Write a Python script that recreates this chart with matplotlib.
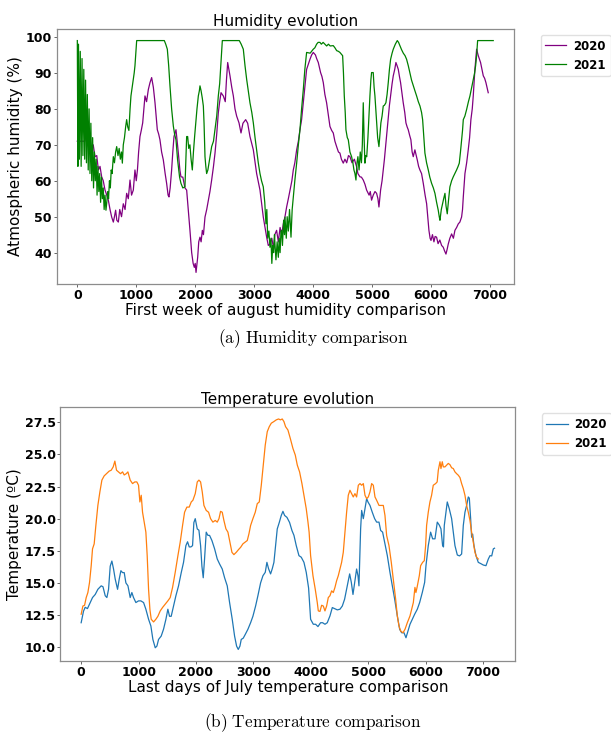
import matplotlib
matplotlib.use('Agg')
import matplotlib.pyplot as plt

plt.rcParams['mathtext.fontset'] = 'cm'

# humidity, 2020 (purple)
hum20_x = [0, 130, 135, 200, 210, 243, 270, 300, 330, 357, 385, 413, 440, 470, 500, 526, 555, 583, 611, 630,
           650, 670, 696, 720, 750, 780, 810, 837, 865, 894, 920, 950, 978, 1000, 1020, 1040, 1063, 1085, 1109, 1130,
           1148, 1175, 1205, 1233, 1261, 1290, 1318, 1357, 1380, 1402, 1430, 1459, 1490, 1515, 1540, 1555, 1575, 1600, 1620, 1640,
           1674, 1700, 1714, 1740, 1758, 1790, 1826, 1855, 1883, 1911, 1940, 1965, 1985, 2000, 2014, 2030, 2042, 2060, 2081, 2100,
           2121, 2140, 2166, 2195, 2223, 2250, 2279, 2310, 2336, 2365, 2392, 2415, 2438, 2477, 2510, 2530, 2551, 2590, 2620, 2647,
           2675, 2703, 2743, 2777, 2810, 2856, 2890, 2929, 2986, 3042, 3099, 3155, 3212, 3240, 3268, 3300, 3330, 3350, 3381, 3410,
           3440, 3466, 3495, 3523, 3551, 3580, 3608, 3640, 3664, 3690, 3721, 3750, 3777, 3805, 3834, 3860, 3890, 3920, 3947, 3975,
           4003, 4040, 4060, 4088, 4127, 4150, 4173, 4200, 4229, 4260, 4286, 4315, 4342, 4370, 4399, 4430, 4455, 4480, 4512, 4540,
           4570, 4600, 4625, 4660, 4700, 4738, 4760, 4794, 4820, 4851, 4880, 4908, 4950, 4970, 4992, 5020, 5050, 5077, 5100, 5117,
           5130, 5145, 5170, 5190, 5210, 5235, 5255, 5275, 5295, 5315, 5340, 5360, 5385, 5405, 5425, 5445, 5465, 5484, 5510, 5529,
           5555, 5575, 5595, 5614, 5640, 5659, 5680, 5699, 5727, 5750, 5767, 5790, 5812, 5840, 5869, 5900, 5926, 5945, 5965, 5985,
           6000, 6025, 6050, 6070, 6095, 6120, 6150, 6180, 6208, 6230, 6254, 6275, 6293, 6320, 6350, 6380, 6406, 6435, 6463, 6490,
           6519, 6535, 6548, 6576, 6605, 6632, 6655, 6677, 6700, 6717, 6745, 6774, 6802, 6841, 6865, 6887, 6910, 6932, 6950, 6971]
hum20_y = [71, 71, 72, 72, 70, 69.5, 70, 66.7, 67, 63, 64, 61.1, 60, 57.4, 56, 54.6, 52, 49.9, 48.5, 50,
           51.8, 49, 48.5, 52, 50, 53.6, 52, 56.5, 55, 60.2, 56, 57.4, 63, 60, 63, 68, 72.3, 74, 76.1, 80,
           83.6, 82, 85.4, 87.3, 88.7, 86, 81.7, 74.2, 73, 71.4, 68, 65.8, 62, 59.3, 56, 55.5, 58, 63, 68, 72.3,
           74.2, 70, 67.7, 63, 61.1, 61, 58, 57.4, 51.8, 46.2, 40, 37, 35.9, 37, 34.5, 37, 38.7, 43, 44.3, 43,
           46.2, 45, 49.9, 52, 54.6, 57, 60.2, 64, 67.7, 73, 78.9, 82, 84.5, 83.6, 82, 88, 92.9, 89.2, 86, 83.6,
           80, 78, 76.1, 73.3, 76, 77, 76, 72.3, 68.6, 62, 57.4, 49.9, 44.3, 42, 42.4, 44, 41, 45, 46.2, 43,
           47, 45, 48, 50, 52.7, 55, 57.4, 60, 63, 65, 68.6, 71, 74.2, 77, 81.7, 86, 91, 92.5, 93.8, 95,
           95.7, 95, 94, 92.9, 90.1, 89, 87.3, 84, 81.7, 78, 75.1, 74, 73.3, 71, 69.5, 68, 67.7, 66, 64.9, 66,
           65, 67, 66.7, 65, 66, 63.9, 62, 61.1, 61, 60.2, 59, 57.4, 56, 57, 54.6, 56, 57, 56.5, 55, 52.7,
           55, 57.4, 60, 63, 66, 70.5, 74, 78, 81, 83.6, 87, 89.2, 91, 92.9, 92, 91, 89, 87.3, 84, 81.7,
           79, 76.1, 75, 74.2, 72.5, 71.4, 68, 66.7, 68.6, 67, 65.8, 64, 63, 62, 59.3, 56, 53.6, 50, 46.2, 44,
           43.4, 45, 43, 44.5, 44.3, 42.5, 43.5, 42, 41.5, 40.5, 39.6, 41, 42.4, 44, 45.2, 44, 46.2, 47, 48, 48.5,
           49.9, 52, 55.5, 62, 65, 68.6, 72, 77, 80, 83.6, 91, 96.6, 94.8, 92.9, 91, 89.2, 88.5, 87.3, 86, 84.5]

# humidity, 2021 (green)
hum21_x = [0, 10, 20, 35, 50, 65, 80, 95, 110, 125, 140, 155, 170, 185, 200, 215, 230, 245, 260, 275,
           290, 305, 320, 335, 350, 365, 380, 395, 410, 425, 440, 455, 470, 486, 500, 515, 530, 545, 560, 575,
           590, 611, 630, 650, 668, 690, 710, 730, 750, 764, 780, 800, 820, 837, 855, 875, 895, 910, 930, 950,
           965, 978, 990, 1007, 1476, 1500, 1527, 1550, 1572, 1600, 1629, 1650, 1674, 1700, 1714, 1735, 1758, 1790, 1826, 1840,
           1855, 1872, 1890, 1910, 1930, 1951, 1970, 1990, 2010, 2030, 2053, 2070, 2081, 2100, 2120, 2138, 2150, 2166, 2180, 2194,
           2215, 2234, 2255, 2279, 2310, 2336, 2365, 2392, 2415, 2438, 2460, 2748, 2780, 2816, 2845, 2873, 2900, 2929, 2960, 2986,
           3015, 3042, 3070, 3099, 3125, 3155, 3180, 3200, 3215, 3230, 3250, 3268, 3285, 3300, 3315, 3330, 3345, 3353, 3370, 3390,
           3410, 3425, 3440, 3455, 3466, 3480, 3500, 3515, 3523, 3545, 3560, 3580, 3600, 3625, 3645, 3664, 3690, 3721, 3750, 3777,
           3805, 3834, 3860, 3890, 3950, 3975, 4003, 4030, 4060, 4085, 4116, 4140, 4170, 4200, 4230, 4260, 4290, 4342, 4370, 4400,
           4430, 4455, 4480, 4501, 4515, 4529, 4545, 4557, 4580, 4597, 4625, 4653, 4675, 4693, 4710, 4727, 4745, 4760, 4780, 4800,
           4820, 4835, 4851, 4865, 4879, 4895, 4910, 4930, 4948, 4964, 4980, 4992, 5020, 5035, 5049, 5063, 5077, 5095, 5117, 5135,
           5150, 5170, 5190, 5210, 5235, 5255, 5275, 5295, 5315, 5340, 5360, 5395, 5428, 5450, 5473, 5500, 5530, 5560, 5586, 5615,
           5643, 5670, 5700, 5728, 5756, 5785, 5813, 5840, 5858, 5875, 5897, 5925, 5954, 5980, 6010, 6040, 6067, 6095, 6123, 6140,
           6152, 6175, 6197, 6215, 6237, 6255, 6276, 6300, 6321, 6350, 6378, 6405, 6434, 6460, 6480, 6500, 6519, 6535, 6548, 6575,
           6604, 6635, 6661, 6690, 6717, 6740, 6757, 6775, 6791, 7056]
hum21_y = [99, 64, 98, 66, 96, 64, 94, 67, 91, 66, 88, 65, 84, 63, 80, 62, 76, 60, 72, 58,
           68, 60, 66, 56, 64, 57, 62, 54, 61, 55, 58, 52, 56, 51.8, 54, 57, 55, 60, 58, 63,
           62, 66.7, 65, 68, 69.5, 67, 69, 66, 68, 64.9, 70, 72, 75, 77, 75, 74, 80, 83.6, 86, 88.2,
           90, 92, 95, 99, 99, 98, 96.6, 92, 86.4, 80, 75.2, 73, 71.4, 66, 64, 61, 59.3, 58, 58.3, 65,
           72.3, 72.3, 69, 70, 66, 63, 68, 72.3, 76, 80, 83.6, 85, 86.4, 85, 83, 80.8, 76, 66.7, 64, 62,
           63, 64.9, 67, 69.5, 71, 74.2, 78, 83.6, 87, 92.9, 99, 99, 98, 96.6, 92, 88.2, 85, 81.7, 79, 76.1,
           72, 68.6, 65, 62, 60, 58.3, 54, 48, 52, 44, 46, 41.5, 44, 37, 42, 40, 45, 42.4, 38, 43,
           38.7, 44, 40, 46, 46.2, 42, 49, 45, 49.9, 44, 50, 46, 52, 44.3, 52, 55.5, 60, 64.9, 70, 74.2,
           80, 85.4, 91, 95.7, 95.5, 96, 96.6, 97, 98, 98.5, 98.5, 98, 98.5, 98, 97.5, 98, 97.5, 97.6, 97, 96.2,
           96, 95.7, 95.2, 94.8, 90, 83.6, 79, 74.2, 72, 71.4, 68, 66.7, 65, 63, 62, 60.2, 65, 66.7, 63, 68,
           65, 70, 81.7, 72, 64.9, 67, 66.7, 72, 78, 83.6, 88, 90.1, 90.1, 86, 83.6, 80, 76.1, 72, 69.5, 73,
           76.1, 78, 80.8, 81, 81.7, 84, 87.3, 91, 93.8, 95.5, 96.6, 98, 99, 98.5, 97.6, 96.5, 95.5, 94.8, 93.8, 92,
           90, 88, 86.4, 85, 83.6, 82, 80.8, 79, 77, 73, 67.7, 65, 63, 61, 59.3, 58, 56.5, 54, 51.8, 50,
           49, 52, 53.7, 55, 56.5, 53, 50.8, 55, 58.3, 60, 61.1, 62, 63, 64, 64.9, 68, 71.4, 74, 77, 78,
           79.8, 82, 83.6, 86, 88.2, 90, 92, 95, 99, 99]

# temperature, 2020 (blue)
tmp20_x = [0, 41, 70, 110, 157, 198, 245, 291, 349, 380, 419, 448, 477, 506, 535, 564, 593, 634, 663, 692,
           721, 750, 779, 815, 854, 883, 912, 953, 999, 1040, 1087, 1127, 1174, 1214, 1249, 1290, 1319, 1348, 1394, 1435,
           1476, 1510, 1539, 1568, 1609, 1650, 1696, 1743, 1783, 1824, 1853, 1882, 1911, 1940, 1963, 1987, 2022, 2051, 2080, 2103,
           2126, 2149, 2178, 2207, 2236, 2277, 2324, 2370, 2411, 2457, 2498, 2544, 2585, 2631, 2672, 2707, 2736, 2765, 2788, 2823,
           2858, 2904, 2951, 2991, 3038, 3078, 3125, 3166, 3206, 3235, 3264, 3299, 3328, 3357, 3386, 3415, 3450, 3485, 3514, 3543,
           3584, 3630, 3671, 3706, 3746, 3793, 3833, 3880, 3920, 3961, 3996, 4043, 4083, 4124, 4170, 4205, 4246, 4286, 4333, 4374,
           4414, 4461, 4507, 4548, 4588, 4623, 4652, 4676, 4705, 4734, 4763, 4797, 4821, 4838, 4867, 4885, 4914, 4943, 4972, 4995,
           5030, 5070, 5111, 5146, 5187, 5216, 5250, 5285, 5332, 5378, 5419, 5460, 5506, 5547, 5581, 5622, 5657, 5692, 5727, 5770,
           5808, 5854, 5895, 5941, 5982, 6005, 6045, 6086, 6121, 6162, 6202, 6237, 6266, 6295, 6310, 6324, 6353, 6376, 6411, 6452,
           6481, 6510, 6551, 6590, 6626, 6655, 6684, 6713, 6742, 6760, 6783, 6800, 6818, 6841, 6876, 6916, 6960, 7004, 7050, 7091,
           7120, 7150, 7178, 7199]
tmp20_y = [11.9, 12.8, 13.1, 13.0, 13.47, 13.86, 14.1, 14.5, 14.77, 14.7, 14.0, 13.86, 14.5, 16.3, 16.7, 16.08, 15.3, 14.5, 15.3, 15.95,
           15.8, 15.8, 15.0, 14.77, 13.86, 14.25, 13.86, 13.47, 13.6, 13.6, 13.47, 12.95, 12.17, 11.65, 10.6, 9.95, 10.08, 10.6, 10.86, 11.4,
           12.17, 12.95, 12.4, 12.4, 13.2, 14.0, 14.77, 15.8, 16.6, 17.9, 18.2, 17.8, 17.8, 17.9, 19.7, 20.0, 19.2, 19.1, 17.9, 16.3,
           15.4, 16.86, 18.95, 18.7, 18.7, 18.3, 17.65, 16.86, 16.47, 16.08, 15.4, 14.77, 13.47, 12.17, 10.86, 10.08, 9.82, 10.08, 10.6, 10.7,
           10.99, 11.39, 11.9, 12.4, 13.2, 14.0, 15.0, 15.56, 15.82, 16.6, 16.1, 15.7, 16.1, 16.6, 17.9, 19.2, 19.7, 20.25, 20.57, 20.25,
           20.1, 19.7, 19.08, 18.7, 17.9, 17.12, 17.0, 16.6, 15.82, 14.6, 12.17, 11.78, 11.78, 11.6, 11.9, 11.9, 11.78, 11.9, 12.43, 13.08,
           13.0, 12.9, 12.95, 13.2, 13.73, 14.5, 15.17, 15.7, 15.04, 14.1, 15.04, 16.08, 15.56, 14.77, 19.2, 20.64, 20.0, 20.77, 21.56, 21.3,
           21.03, 20.5, 20.0, 19.73, 19.73, 19.08, 18.95, 18.17, 17.12, 15.82, 14.77, 13.73, 12.43, 11.39, 11.12, 11.12, 10.73, 11.25, 11.78, 12.2,
           12.56, 12.95, 13.47, 14.25, 15.04, 16.34, 17.9, 18.95, 18.43, 18.43, 19.73, 19.5, 19.21, 17.9, 17.8, 19.47, 20.5, 21.3, 20.77, 20.0,
           18.95, 17.9, 17.17, 17.1, 17.25, 19.47, 20.5, 21.03, 21.69, 21.6, 20.0, 18.56, 18.8, 17.9, 17.12, 16.6, 16.5, 16.39, 16.34, 16.86,
           17.12, 17.1, 17.65, 17.7]

# temperature, 2021 (orange)
tmp21_x = [0, 30, 59, 88, 117, 146, 175, 198, 227, 256, 291, 326, 361, 401, 442, 488, 523, 558, 587, 616,
           651, 686, 721, 750, 785, 814, 854, 895, 935, 970, 999, 1023, 1046, 1069, 1098, 1127, 1150, 1174, 1197, 1220,
           1261, 1301, 1336, 1377, 1420, 1464, 1510, 1551, 1592, 1638, 1685, 1725, 1766, 1801, 1841, 1882, 1917, 1946, 1987, 2022,
           2051, 2080, 2109, 2138, 2178, 2219, 2254, 2294, 2335, 2370, 2400, 2428, 2457, 2486, 2521, 2556, 2591, 2626, 2660, 2701,
           2742, 2777, 2817, 2855, 2893, 2922, 2951, 2991, 3032, 3067, 3102, 3137, 3171, 3206, 3241, 3276, 3311, 3357, 3398, 3438,
           3470, 3502, 3531, 3560, 3601, 3642, 3688, 3729, 3764, 3804, 3845, 3880, 3920, 3950, 3970, 3996, 4037, 4077, 4112, 4130,
           4159, 4188, 4217, 4246, 4275, 4304, 4333, 4362, 4391, 4420, 4449, 4478, 4507, 4536, 4565, 4594, 4623, 4652, 4681, 4710,
           4739, 4768, 4797, 4827, 4856, 4885, 4914, 4943, 4972, 5001, 5030, 5059, 5088, 5117, 5146, 5187, 5225, 5262, 5291, 5320,
           5361, 5401, 5436, 5477, 5506, 5535, 5564, 5605, 5640, 5680, 5727, 5756, 5785, 5813, 5830, 5850, 5889, 5912, 5947, 5976,
           5999, 6016, 6045, 6074, 6103, 6132, 6173, 6200, 6220, 6249, 6266, 6289, 6307, 6336, 6365, 6394, 6423, 6452, 6481, 6510,
           6539, 6568, 6597, 6626, 6655, 6684, 6713, 6742, 6771, 6800, 6829, 6858, 6887, 6916]
tmp21_y = [12.56, 13.2, 13.25, 13.86, 14.25, 15.04, 16.34, 17.65, 18.04, 19.47, 21.03, 22.08, 23.0, 23.33, 23.5, 23.7, 23.77, 24.03, 24.48, 23.77,
           23.64, 23.5, 23.64, 23.4, 23.5, 23.64, 23.0, 22.73, 22.86, 22.86, 22.6, 21.3, 21.82, 20.5, 19.73, 18.95, 17.12, 14.5, 12.95, 12.17,
           11.96, 12.17, 12.4, 12.82, 13.1, 13.34, 13.6, 13.86, 14.65, 15.82, 17.12, 18.17, 19.47, 20.5, 20.9, 20.9, 21.3, 21.43, 21.95, 22.86,
           23.0, 22.86, 22.08, 21.03, 20.64, 20.5, 20.0, 19.73, 19.86, 19.73, 20.0, 20.57, 20.5, 19.86, 19.21, 18.95, 18.17, 17.38, 17.2, 17.38,
           17.6, 17.77, 18.04, 18.17, 18.3, 18.82, 19.47, 20.0, 20.5, 21.17, 21.3, 22.6, 24.17, 25.73, 26.77, 27.16, 27.43, 27.56, 27.69, 27.76,
           27.69, 27.76, 27.56, 27.16, 26.9, 26.25, 25.47, 24.95, 24.17, 23.64, 22.73, 21.82, 20.77, 19.73, 18.95, 17.12, 15.56, 14.5, 13.47, 12.82,
           12.78, 13.26, 13.2, 12.82, 13.2, 13.86, 14.0, 14.38, 14.25, 14.65, 15.17, 15.56, 16.08, 16.6, 17.38, 18.95, 20.5, 21.82, 22.21, 21.95,
           21.69, 21.95, 21.69, 22.6, 22.73, 22.6, 22.73, 21.82, 21.56, 21.69, 22.08, 22.73, 22.6, 21.69, 21.43, 21.03, 21.03, 21.03, 20.25, 18.69,
           17.9, 16.6, 15.3, 13.73, 12.43, 11.65, 11.25, 11.12, 11.39, 11.9, 12.43, 12.95, 13.47, 14.65, 14.25, 14.65, 15.56, 16.34, 16.6, 16.73,
           17.9, 19.47, 20.5, 21.3, 21.82, 22.6, 22.73, 22.86, 23.77, 24.43, 23.9, 24.43, 24.03, 24.03, 24.17, 24.3, 24.2, 23.96, 23.9, 23.64,
           23.5, 23.38, 23.2, 22.73, 22.34, 21.82, 21.03, 20.5, 19.86, 18.95, 18.17, 17.38, 17.0, 16.86]

ticks_x = [0, 1000, 2000, 3000, 4000, 5000, 6000, 7000]
ticks_temp = [10.0, 12.5, 15.0, 17.5, 20.0, 22.5, 25.0, 27.5]


def style_axes(ax):
    for s in ax.spines.values():
        s.set_color('0.55')
        s.set_linewidth(0.9)
    ax.tick_params(length=2, width=0.6, pad=1.5, colors='0.3', labelcolor='black')
    for lab in ax.get_xticklabels() + ax.get_yticklabels():
        lab.set_fontweight('bold')
        lab.set_fontsize(9)


def add_legend(ax):
    ax.legend(loc='upper left', bbox_to_anchor=(1.045, 1), prop={'weight': 'bold', 'size': 8.5},
              handlelength=1.8, handletextpad=0.6, borderpad=0.4,
              framealpha=0.8, edgecolor='0.85')


fig = plt.figure(figsize=(6.11, 7.34), dpi=100)

ax1 = fig.add_axes([0.0925, 0.6131, 0.7488, 0.3474])
ax1.plot(hum20_x, hum20_y, color='purple', lw=0.9, label='2020')
ax1.plot(hum21_x, hum21_y, color='green', lw=0.9, label='2021')
ax1.set_title('Humidity evolution', fontsize=11, pad=1)
ax1.set_xlabel('First week of august humidity comparison', fontsize=11, labelpad=1)
ax1.set_ylabel('Atmospheric humidity (%)', fontsize=11, labelpad=2)
ax1.set_xticks(ticks_x)
style_axes(ax1)
add_legend(ax1)

ax2 = fig.add_axes([0.0990, 0.0995, 0.7442, 0.3454])
ax2.plot(tmp20_x, tmp20_y, color='C0', lw=0.9, label='2020')
ax2.plot(tmp21_x, tmp21_y, color='C1', lw=0.9, label='2021')
ax2.set_title('Temperature evolution', fontsize=11, pad=1)
ax2.set_xlabel('Last days of July temperature comparison', fontsize=11, labelpad=1)
ax2.set_ylabel('Temperature (ºC)', fontsize=11, labelpad=2)
ax2.set_xticks(ticks_x)
ax2.set_yticks(ticks_temp)
style_axes(ax2)
add_legend(ax2)

fig.text(0.512, 0.538, r'$\mathrm{(a)\ Humidity\ comparison}$', ha='center', va='center', fontsize=12.4)
fig.text(0.512, 0.015, r'$\mathrm{(b)\ Temperature\ comparison}$', ha='center', va='center', fontsize=12.4)

fig.savefig('out.png', dpi=100)
